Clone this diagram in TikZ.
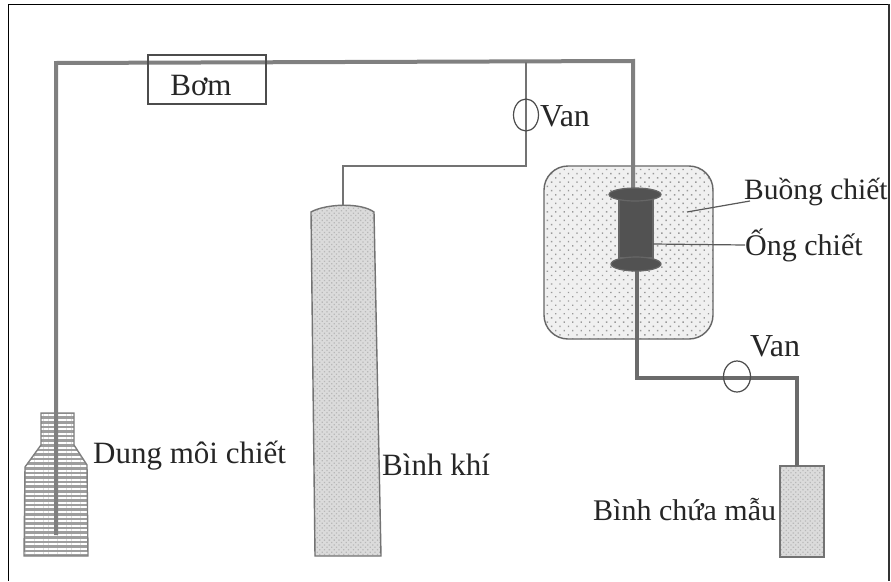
\documentclass[tikz,border=0pt]{standalone}
\usepackage{fontspec}
\setmainfont{Liberation Serif}
\usetikzlibrary{patterns.meta,calc,shapes.geometric}
\tikzset{
  x=1pt,y=-1pt,
  lbl/.style={font=\fontsize{31}{33}\selectfont,text=black!85,inner sep=0pt,anchor=west},
  lblsm/.style={lbl,font=\fontsize{30}{32}\selectfont},
  pipe/.style={draw=black!50,line width=4pt,line join=miter},
  thin pipe/.style={draw=black!55,line width=2pt},
  valve/.style={draw=black!70,line width=1.2pt,ellipse,minimum width=25pt,minimum height=32pt,inner sep=0pt},
  dotfill/.style={preaction={fill=black!6},pattern={Dots[radius=1pt,distance=6pt,angle=45]},pattern color=black!40},
  densedot/.style={preaction={fill=black!14},pattern={Dots[radius=.9pt,distance=3.4pt,angle=45]},pattern color=black!28},
  wavefill/.style={preaction={fill=black!38},pattern={Lines[distance=4.6pt,angle=0,line width=1.9pt]},pattern color=white}
}
\begin{document}
\begin{tikzpicture}
\useasboundingbox (0,0) rectangle (891,581);
\fill[white] (0,0) rectangle (891,581);
\draw[black,line width=1.6pt] (8,4.5) -- (889,4.5);
\draw[black,line width=1.6pt] (8.5,4) -- (8.5,581);
\draw[black!80,line width=2pt] (888.5,4) -- (888.5,581);
% bottle
\path[wavefill,draw=black!50,line width=1.4pt] (41,413) -- (74,413) -- (74,445) -- (87,465) -- (88,556) -- (24,556) -- (25,467) -- (41,445) -- cycle;
% gas cylinder
\path[densedot,draw=black!55,line width=1.4pt] (311,212) .. controls (325,204) and (360,202) .. (374,212) -- (381,556) -- (315,556) -- cycle;
% chamber
\path[dotfill,draw=black!60,line width=1.4pt,rounded corners=24pt] (544,166) rectangle (713,339);
% sample flask
\path[densedot,draw=black!55,line width=1.4pt] (780,466) rectangle (824,557);
% pipes
\coordinate (botfoot) at (56,535);
\coordinate (corner1) at (56,63);
\coordinate (corner2) at (633,61);
\coordinate (colTop) at (633,190);
\coordinate (colBot) at (637,265);
\coordinate (corner3) at (637,378);
\coordinate (corner4) at (797,378);
\coordinate (flaskTop) at (797,466);
\draw[pipe] (botfoot) -- (corner1) -- (corner2) -- (colTop);
\draw[pipe,draw=black!58] (colBot) -- (corner3) -- (corner4) -- (flaskTop);
\coordinate (tee) at (526,62);
\coordinate (teeB) at (526,166);
\coordinate (cylJ) at (343,166);
\coordinate (cylTop) at (343,205);
\draw[thin pipe] (tee) -- (teeB) -- (cylJ) -- (cylTop);
% pump
\node[draw=black!70,line width=1.3pt,minimum width=118pt,minimum height=49pt,inner sep=0pt] (bom) at (207,79.5) {};
\node[lbl,anchor=center] at (201,85) {Bơm};
% valves
\node[valve] (v1) at (526,115) {};
\node[valve,minimum width=27pt,minimum height=31pt] (v2) at (737,376.5) {};
% extraction tube
\path[fill=black!68,draw=black!60,line width=1.2pt] (619,198) rectangle (653,258);
\path[fill=black!68,draw=black!60,line width=1.2pt] (635,194.5) ellipse[x radius=26,y radius=6.5];
\path[fill=black!68,draw=black!60,line width=1.2pt] (636,264) ellipse[x radius=25,y radius=7];
% leaders
\node[lbl,font=\fontsize{29.5}{32}\selectfont] (lbuong) at (744,192) {Buồng chiết};
\node[lblsm] (long) at (745,245) {Ống chiết};
\coordinate (lchamber) at (687,212);
\coordinate (lchamberEnd) at (750,201);
\coordinate (ltube) at (653,244);
\draw[draw=black!65,line width=1.2pt] (lchamber) -- (lchamberEnd);
\draw[draw=black!65,line width=1.2pt] (ltube) -- (long.west);
% labels
\node[lbl,font=\fontsize{32}{34}\selectfont] at (540,116) {Van};
\node[lbl,font=\fontsize{32}{34}\selectfont] at (750,346) {Van};
\node[lbl] at (93,456) {Dung môi chiết};
\node[lbl] at (382,465) {Bình khí};
\node[lblsm] at (593,510) {Bình chứa mẫu};
\end{tikzpicture}
\end{document}
